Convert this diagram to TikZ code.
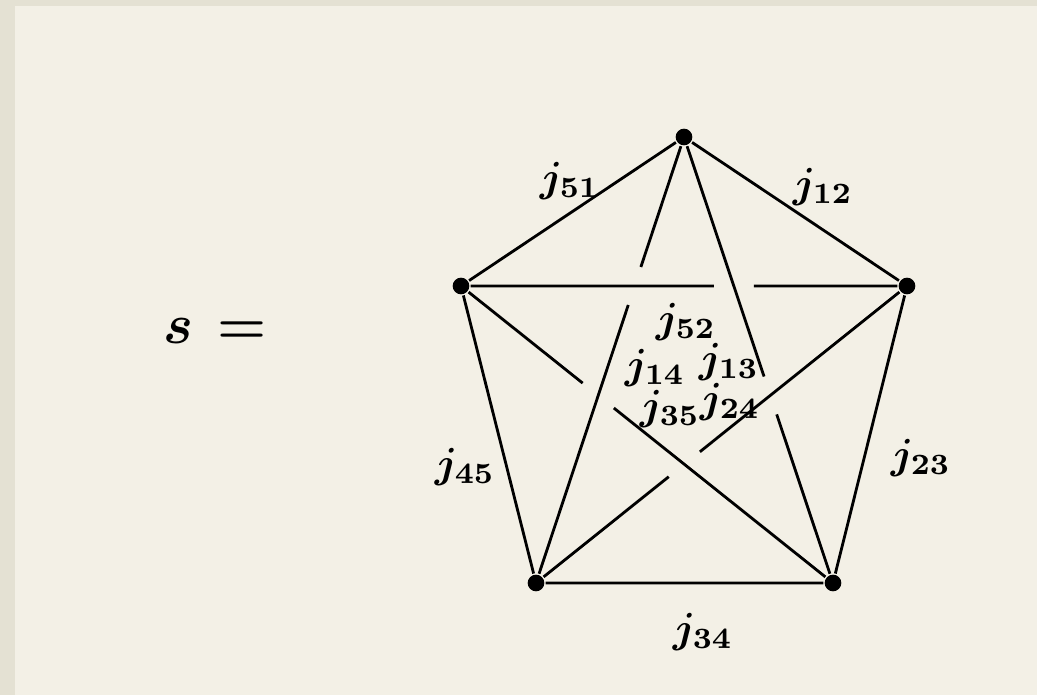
\documentclass[tikz,border=0pt]{standalone}
\usepackage{amsmath}
\usepackage{bm}
\usetikzlibrary{calc}
\definecolor{paper}{HTML}{F3F0E6}
\definecolor{paperedge}{HTML}{E4E1D3}

\begin{document}
\begin{tikzpicture}[x=0.0075cm,y=-0.0075cm,semithick,
                    vert/.style={circle,fill,inner sep=0pt,minimum size=0.125cm},
                    lbl/.style={inner sep=0pt,scale=0.9}]
  \fill[paperedge] (0,0) rectangle (1037,695);
  \fill[paper] (15,6) rectangle (1037,695);
  \node (s) at (215,331) {\large$\bm{s\,=}$};
  \node[vert] (v1) at (684,137) {};
  \node[vert] (v2) at (907,286) {};
  \node[vert] (v3) at (833,583) {};
  \node[vert] (v4) at (536,583) {};
  \node[vert] (v5) at (461,286) {};
  \coordinate (a) at (intersection of v5.center--v2.center and v1.center--v4.center);
  \coordinate (b) at (intersection of v5.center--v2.center and v1.center--v3.center);
  \coordinate (c) at (intersection of v1.center--v3.center and v2.center--v4.center);
  \coordinate (d) at (intersection of v2.center--v4.center and v3.center--v5.center);
  \coordinate (e) at (intersection of v3.center--v5.center and v1.center--v4.center);
  \draw (v1) -- (v2) -- (v3) -- (v4) -- (v5) -- (v1);
  \foreach \p/\q/\x in {v1/v4/a,v5/v2/b,v1/v3/c,v2/v4/d,v3/v5/e}
    \draw (\p) -- ($(\x)!0.15cm!(\p.center)$) ($(\x)!0.15cm!(\q.center)$) -- (\q);
  \node[lbl] (l51) at (570,181) {$\bm{j_{51}}$};
  \node[lbl] (l12) at (823,187) {$\bm{j_{12}}$};
  \node[lbl] (l23) at (921,458) {$\bm{j_{23}}$};
  \node[lbl] (l34) at (703,632) {$\bm{j_{34}}$};
  \node[lbl] (l45) at (465,467) {$\bm{j_{45}}$};
  \node[lbl] (l52) at (686,322) {$\bm{j_{52}}$};
  \node[lbl] (l14) at (655,368) {$\bm{j_{14}}$};
  \node[lbl] (l13) at (729,362) {$\bm{j_{13}}$};
  \node[lbl] (l35) at (670,409) {$\bm{j_{35}}$};
  \node[lbl] (l24) at (730,402) {$\bm{j_{24}}$};
\end{tikzpicture}
\end{document}
